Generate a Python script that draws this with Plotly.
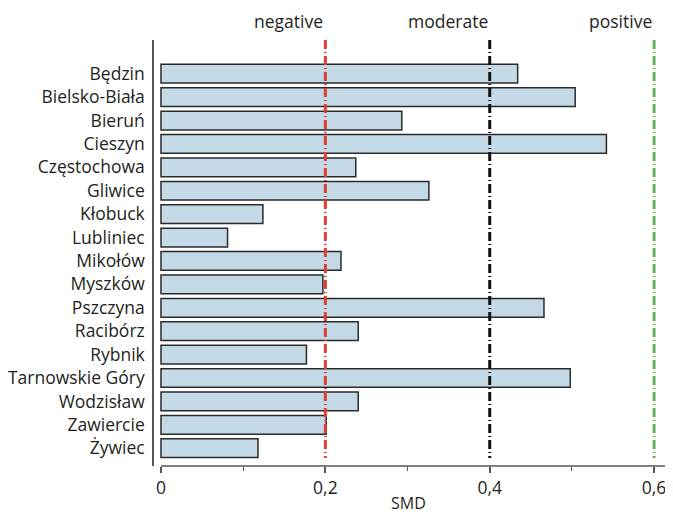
import plotly.graph_objects as go

districts = ["Będzin", "Bielsko-Biała", "Bieruń", "Cieszyn", "Częstochowa", "Gliwice",
             "Kłobuck", "Lubliniec", "Mikołów", "Myszków", "Pszczyna", "Racibórz",
             "Rybnik", "Tarnowskie Góry", "Wodzisław", "Zawiercie", "Żywiec"]
smd = [0.434, 0.504, 0.293, 0.542, 0.237, 0.326, 0.124, 0.081, 0.219, 0.197,
       0.466, 0.240, 0.177, 0.498, 0.240, 0.201, 0.118]

threshold_vals = [0.2, 0.4, 0.6]
threshold_labels = ["negative", "moderate", "positive"]
threshold_colors = ["#e53b33", "#111111", "#62b55a"]

x_tickvals = [0, 0.2, 0.4, 0.6]
x_ticktext = ["0", "0,2", "0,4", "0,6"]

FONT = "Open Sans"
TXT = "#231f20"
FS = 17.5

fig = go.Figure()
fig.add_trace(go.Bar(
    x=smd, y=list(range(len(districts))), orientation="h",
    width=0.8,
    marker=dict(color="#c3d9e6", line=dict(color="#2b2b2b", width=1.5)),
    showlegend=False, hoverinfo="skip",
))

y_top = -1.44
y_bot = 16.76
for v, lab, col in zip(threshold_vals, threshold_labels, threshold_colors):
    fig.add_shape(type="line", xref="x", yref="y", x0=v, x1=v, y0=y_top, y1=16.42,
                  line=dict(color=col, width=3, dash="9px,3px,1px,3px"), layer="above")
    fig.add_annotation(x=v, xref="x", y=1, yref="paper", text=lab, showarrow=False,
                       xanchor="right", yanchor="middle", yshift=19,
                       font=dict(family=FONT, size=FS, color=TXT))

# x axis line starting at 0
fig.add_shape(type="line", xref="x", yref="paper", x0=0, x1=1, y0=0, y1=0,
              line=dict(color="#555555", width=1.5))

fig.add_annotation(x=0.491, xref="paper", y=0, yref="paper", text="SMD", showarrow=False,
                   xanchor="center", yanchor="middle", yshift=-37,
                   font=dict(family=FONT, size=16, color=TXT))

fig.update_layout(
    width=665, height=505,
    margin=dict(l=144, r=0, t=32, b=47),
    paper_bgcolor="white", plot_bgcolor="white",
    font=dict(family=FONT, size=FS, color=TXT),
    xaxis=dict(range=[-0.0085, 0.623], showgrid=False, zeroline=False, showline=False,
               tickvals=x_tickvals, ticktext=x_ticktext, ticks="outside", ticklen=6,
               tickwidth=1.5, tickcolor="#555555",
               minor=dict(tickvals=[0.1, 0.3, 0.5], ticks="outside", ticklen=4,
                          tickwidth=1.2, tickcolor="#555555"),
               tickfont=dict(family=FONT, size=FS, color=TXT)),
    yaxis=dict(range=[y_bot, y_top], showgrid=False, zeroline=False, showline=True,
               linecolor="#555555", linewidth=1.5,
               tickvals=list(range(len(districts))), ticktext=districts, ticks="",
               ticklabelstandoff=4,
               tickfont=dict(family=FONT, size=FS, color=TXT)),
)

fig.write_html("out.html")
